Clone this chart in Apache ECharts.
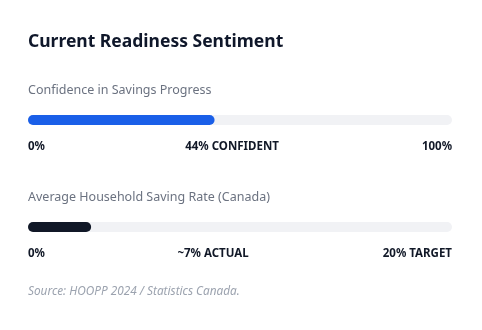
<!DOCTYPE html>
<html>
<head>
<meta charset="utf-8">
<script src="https://cdn.jsdelivr.net/npm/echarts@6/dist/echarts.min.js"></script>
<style>
  html, body { margin: 0; padding: 0; background: #ffffff; }
  #chart { width: 482px; height: 330px; }
</style>
</head>
<body>
<div id="chart"></div>
<script>
// Readiness gauges: share of people confident in savings, and household saving rate
const gaugeTitles = ['Confidence in Savings Progress', 'Average Household Saving Rate (Canada)'];
const gaugeValues = [44, 7];
const gaugeScaleMax = [100, 47];
const gaugeColors = ['#1a5fe8', '#111827'];
const leftLabels = ['0%', '0%'];
const middleLabels = ['44% CONFIDENT', '~7% ACTUAL'];
const rightLabels = ['100%', '20% TARGET'];

const FONT = '"Noto Sans", "Open Sans", sans-serif';
const chart = echarts.init(document.getElementById('chart'), null, { renderer: 'canvas' });

const trackLeft = 28, trackWidth = 424;
const rowTops = [115, 222];
const middleX = [232, 213];

const grids = [], xAxes = [], yAxes = [], series = [], texts = [];

gaugeValues.forEach((v, i) => {
  grids.push({ left: trackLeft, width: trackWidth, top: rowTops[i], height: 10 });
  xAxes.push({ type: 'value', gridIndex: i, min: 0, max: gaugeScaleMax[i], show: false });
  yAxes.push({ type: 'category', gridIndex: i, data: [gaugeTitles[i]], show: false });
  series.push({
    type: 'bar',
    xAxisIndex: i,
    yAxisIndex: i,
    data: [v],
    barWidth: 10,
    showBackground: true,
    backgroundStyle: { color: '#f1f2f5', borderRadius: 5 },
    itemStyle: { color: gaugeColors[i], borderRadius: 5 },
    silent: true
  });

  const top = rowTops[i];
  texts.push({
    type: 'text', x: trackLeft, y: top - 25,
    style: { text: gaugeTitles[i], font: '12.5px ' + FONT, fill: '#6b7280', textVerticalAlign: 'middle' }
  });
  const labelY = top + 32;
  const labelStyle = { font: 'bold 11.5px ' + FONT, fill: '#111827', textVerticalAlign: 'middle' };
  texts.push({ type: 'text', x: trackLeft, y: labelY,
    style: Object.assign({ text: leftLabels[i], textAlign: 'left' }, labelStyle) });
  texts.push({ type: 'text', x: middleX[i], y: labelY,
    style: Object.assign({ text: middleLabels[i], textAlign: 'center' }, labelStyle) });
  texts.push({ type: 'text', x: trackLeft + trackWidth, y: labelY,
    style: Object.assign({ text: rightLabels[i], textAlign: 'right' }, labelStyle) });
});

texts.push({
  type: 'text', x: 28, y: 42,
  style: { text: 'Current Readiness Sentiment', font: 'bold 17.5px ' + FONT, fill: '#0f172a', textVerticalAlign: 'middle' }
});
texts.push({
  type: 'text', x: 28, y: 292,
  style: { text: 'Source: HOOPP 2024 / Statistics Canada.', font: 'italic 11.8px ' + FONT, fill: '#9ca3af', textVerticalAlign: 'middle' }
});

chart.setOption({
  animation: false,
  grid: grids,
  xAxis: xAxes,
  yAxis: yAxes,
  series: series,
  graphic: texts
});
</script>
</body>
</html>
